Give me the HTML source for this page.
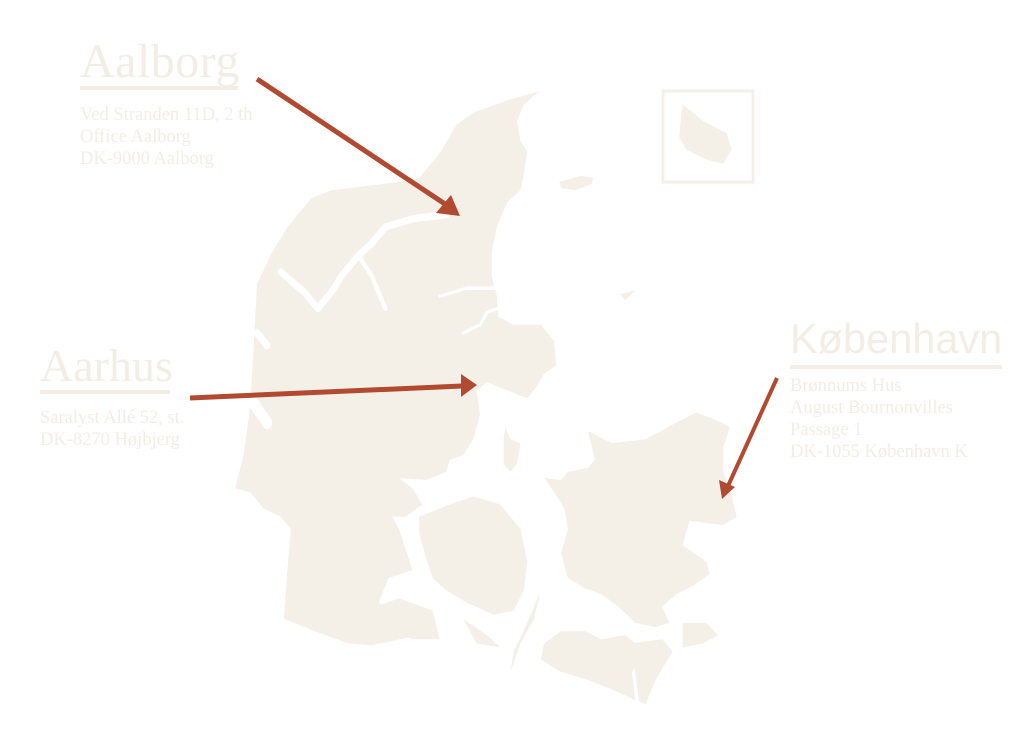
<!DOCTYPE html>
<html><head><meta charset="utf-8"><style>
html,body{margin:0;padding:0;background:#fff;}
body{width:1024px;height:746px;position:relative;overflow:hidden;}
.t{position:absolute;color:#f3eee5;white-space:nowrap;}
.serif{font-family:"Liberation Serif",serif;}
.h{font-size:48px;line-height:48px;}
.a{font-size:18.5px;line-height:22px;}
.u{position:absolute;height:4px;background:#f3eee5;}
</style></head><body>
<svg width="1024" height="746" style="position:absolute;left:0;top:0">
<g transform="translate(230,80) scale(0.3378,0.4082)" fill="#f4f0e8">
<polygon points="915,28 870,60 850,100 860,150 880,175 870,230 860,270 820,300 790,360 775,420 775,480 790,530 795,580 840,600 920,600 960,640 965,700 930,720 900,760 880,780 850,770 820,760 760,740 730,760 740,820 720,880 690,920 650,930 640,960 580,980 500,975 540,1000 570,1040 520,1070 480,1070 500,1100 520,1150 540,1200 470,1220 440,1280 470,1300 540,1330 560,1360 420,1385 350,1380 250,1350 160,1320 170,1200 180,1100 150,1070 100,1050 60,1010 15,1000 40,920 60,800 70,650 80,500 120,430 170,360 240,290 300,270 400,260 500,250 560,240 620,180 670,110 720,80 820,50"/>
<polygon points="560,1070 650,1040 720,1020 800,1040 860,1100 880,1180 870,1250 840,1300 780,1310 700,1280 640,1250 600,1220 580,1170 560,1110"/>
<polygon points="930,975 980,980 1000,960 1060,950 1080,930 1060,860 1130,890 1230,880 1320,840 1380,815 1430,830 1480,850 1460,900 1460,960 1480,1000 1500,1070 1460,1090 1360,1080 1340,1140 1410,1180 1420,1210 1370,1240 1320,1260 1280,1290 1300,1330 1260,1340 1200,1330 1150,1290 1100,1260 1050,1245 1000,1220 980,1160 1000,1100 990,1050 960,1010"/>
<polygon points="1340,1330 1410,1330 1445,1360 1400,1380 1340,1390"/>
<polygon points="930,1380 980,1350 1050,1350 1100,1370 1170,1360 1230,1400 1190,1450 1200,1520 1150,1500 1060,1470 980,1450 920,1420"/>
<polygon points="1190,1380 1280,1370 1310,1400 1260,1470 1230,1530 1210,1520 1200,1450"/>
<polygon points="920,1250 880,1330 840,1400 830,1450 860,1380 900,1320"/>
<polygon points="430,1290 500,1270 600,1300 620,1370 540,1370 470,1340"/>
<polygon points="690,1320 760,1360 800,1390 730,1380"/>
<polygon points="1340,60 1400,100 1470,130 1485,170 1460,205 1410,195 1350,170 1330,140 1335,90"/>
<polygon points="975,250 1040,235 1075,240 1070,255 1020,270 980,265"/>
<polygon points="1155,525 1200,515 1170,540"/>
<polygon points="815,850 830,880 860,890 850,940 830,960 810,940 810,880"/>
<rect x="1282" y="27" width="266" height="223" fill="none" stroke="#f4f0e8" stroke-width="8"/>
<g fill="none" stroke="#fff" stroke-linecap="round" stroke-linejoin="round">
<polyline points="150,470 220,520 260,560 300,520 330,480 380,430 420,400 460,360 540,340 640,330" stroke-width="18"/>
<polyline points="380,430 420,480 440,520 460,560" stroke-width="12"/>
<polyline points="80,620 110,650" stroke-width="20"/>
<polyline points="60,780 110,840" stroke-width="30"/>
<polyline points="620,530 700,510 790,510" stroke-width="8"/>
<polyline points="690,620 740,600 760,570 790,560" stroke-width="8"/>
</g>
</g>
<g fill="#b04a30" stroke="#b04a30">
<line x1="257" y1="79" x2="445" y2="204" stroke-width="5"/>
<polygon points="460,216 436,213 451,195" stroke="none"/>
<line x1="190" y1="398" x2="462" y2="386" stroke-width="5"/>
<polygon points="477,385 461,374 461,397" stroke="none"/>
<line x1="777" y1="378" x2="728" y2="486" stroke-width="4"/>
<polygon points="722,499 719,480 735,487" stroke="none"/>
</g>
</svg>
<div class="t serif h" style="left:80px;top:38px;letter-spacing:0.5px;">Aalborg</div>
<div class="u" style="left:80px;top:86px;width:158px;"></div>
<div class="t serif a" style="left:80px;top:104px;">Ved Stranden 11D, 2 th<br>Office Aalborg<br>DK-9000 Aalborg</div>
<div class="t serif h" style="left:40px;top:342px;font-size:46px;">Aarhus</div>
<div class="u" style="left:40px;top:390px;width:130px;"></div>
<div class="t serif a" style="left:40px;top:407px;">Saralyst Allé 52, st.<br>DK-8270 Højbjerg</div>
<div class="t" style="left:790px;top:317px;font-family:'Liberation Sans',sans-serif;font-size:41.5px;line-height:44px;">København</div>
<div class="u" style="left:790px;top:365px;width:212px;"></div>
<div class="t serif a" style="left:790px;top:375px;">Brønnums Hus<br>August Bournonvilles<br>Passage 1<br>DK-1055 København K</div>
</body></html>
